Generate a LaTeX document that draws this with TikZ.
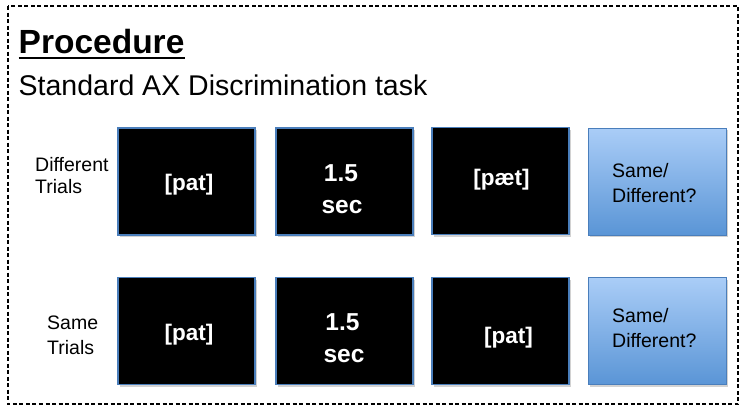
\documentclass[tikz,border=0pt]{standalone}
\usepackage{fontspec}
\setmainfont{Liberation Sans}
\usetikzlibrary{shadows}
\definecolor{edgeblue}{HTML}{4A7EBB}
\definecolor{toplight}{HTML}{AACDF7}
\definecolor{botdark}{HTML}{5A95D6}
\begin{document}
\begin{tikzpicture}[x=1pt,y=-1pt,
  stim/.style={draw=edgeblue,line width=1.2pt,fill=black,minimum width=137pt,minimum height=107pt,inner sep=0pt,
    drop shadow={shadow xshift=1.5pt,shadow yshift=-2pt,opacity=0.35}},
  resp/.style={draw=edgeblue,line width=1pt,top color=toplight,bottom color=botdark,minimum width=138pt,minimum height=107pt,inner sep=0pt,
    drop shadow={shadow xshift=1.5pt,shadow yshift=-2pt,opacity=0.35}},
  stimtext/.style={text=white,font=\fontsize{22.5}{30}\selectfont\bfseries,inner sep=0pt,anchor=base},
  durtext/.style={text=white,font=\fontsize{24.5}{30}\selectfont\bfseries,inner sep=0pt,anchor=base},
  lab/.style={font=\fontsize{19.5}{24}\selectfont,inner sep=0pt,anchor=base west}]
\useasboundingbox (0,0) rectangle (749,415);
\fill[white] (0,0) rectangle (749,415);
\draw[dashed,line width=1.2pt,dash pattern=on 4pt off 2.5pt] (8,6) rectangle (738,404);
\node[inner sep=0pt,anchor=base west,font=\fontsize{33.5}{40}\selectfont\bfseries] (title) at (18.5,53) {Procedure};
\draw[line width=2.5pt] ([yshift=-5pt]title.base west) -- ([yshift=-5pt]title.base east);
\node[inner sep=0pt,anchor=base west,font=\fontsize{28.5}{32}\selectfont] (subtitle) at (18.5,95) {Standard AX Discrimination task};
% row 1
\node[stim] (a1) at (186.5,181.5) {};
\node[stim] (b1) at (344.5,181.5) {};
\node[stim] (c1) at (500.5,181) {};
\node[resp] (d1) at (657,181.5) {};
\node[stimtext] (a1t) at (189,190) {[pat]};
\node[durtext] (b1t) at (341,181) {1.5};
\node[durtext] (b1s) at (342,213) {sec};
\node[stimtext] (c1t) at (501.5,185) {[pæt]};
\node[lab] (d1a) at (612,177) {Same/};
\node[lab] (d1b) at (612,202) {Different?};
\node[lab] (l1a) at (35,171) {Different};
\node[lab] (l1b) at (35,193) {Trials};
% row 2
\node[stim] (a2) at (186.5,331) {};
\node[stim] (b2) at (344.5,331) {};
\node[stim] (c2) at (500.5,331) {};
\node[resp] (d2) at (657,331) {};
\node[stimtext] (a2t) at (189,340) {[pat]};
\node[durtext] (b2t) at (342.5,330) {1.5};
\node[durtext] (b2s) at (344,362) {sec};
\node[stimtext] (c2t) at (508.5,343) {[pat]};
\node[lab] (d2a) at (612,322.5) {Same/};
\node[lab] (d2b) at (612,347) {Different?};
\node[lab] (l2a) at (47,329) {Same};
\node[lab] (l2b) at (47,354) {Trials};
\end{tikzpicture}
\end{document}
